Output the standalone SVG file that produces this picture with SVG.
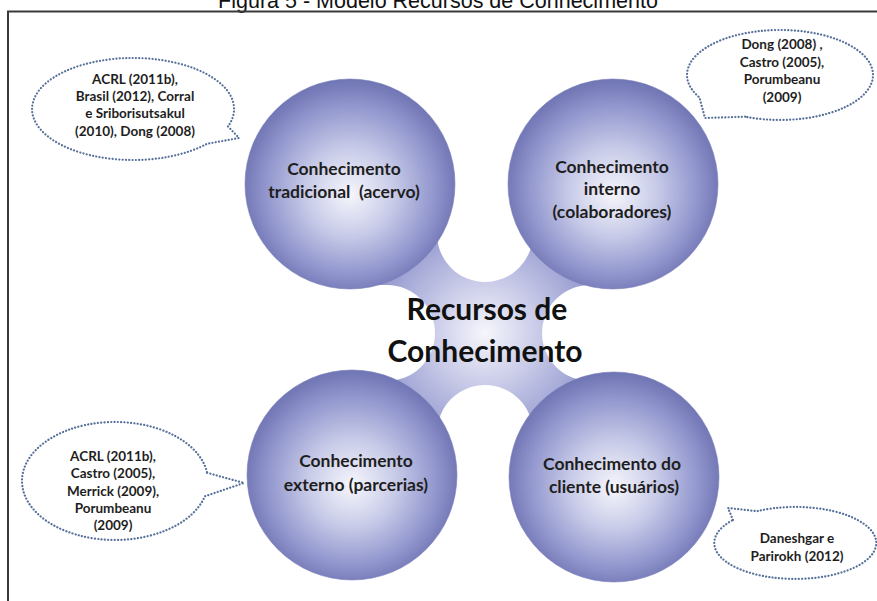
<svg xmlns="http://www.w3.org/2000/svg" width="877" height="601" viewBox="0 0 877 601">
<style>
.frame{fill:none;stroke:#3a3a3a;stroke-width:2}
.title{font-family:"Liberation Sans",Arial,sans-serif;font-size:21.5px;fill:#111}
.ball{stroke:#7a7fbb;stroke-width:0.6}
.lbl{font-family:Lato,"Open Sans",sans-serif;font-weight:700;font-size:17.5px;fill:#1e1e1e;text-anchor:middle}
.hubtxt{font-family:Lato,"Open Sans",sans-serif;font-weight:700;font-size:30px;fill:#111;text-anchor:middle}
.bubble{fill:#fff;stroke:#56709a;stroke-width:2.2;stroke-dasharray:0.1 3.2;stroke-linecap:round;stroke-linejoin:round}
.ctx{font-family:Lato,"Open Sans",sans-serif;font-weight:700;font-size:13.5px;fill:#1e1e1e;text-anchor:middle}
</style>
<defs>
<radialGradient id="ballGrad" cx="50%" cy="52%" r="52%" fx="50%" fy="55%">
<stop offset="0" stop-color="#f6f6fc"/>
<stop offset="0.4" stop-color="#c8cbe8"/>
<stop offset="0.78" stop-color="#9095cd"/>
<stop offset="1" stop-color="#6f74b3"/>
</radialGradient>
<radialGradient id="hubGrad" gradientUnits="userSpaceOnUse" cx="485" cy="333" r="150">
<stop offset="0" stop-color="#f6f6fc"/>
<stop offset="0.35" stop-color="#c9cbe8"/>
<stop offset="0.8" stop-color="#8e93cb"/>
<stop offset="1" stop-color="#7a7fbd"/>
</radialGradient>
<mask id="hubMask" maskUnits="userSpaceOnUse" x="0" y="0" width="877" height="601">
<rect x="0" y="0" width="877" height="601" fill="#fff"/>
<g fill="#000">
<circle cx="485" cy="234" r="48"/><rect x="437" y="0" width="96" height="234"/>
<circle cx="485" cy="433" r="48"/><rect x="437" y="433" width="96" height="200"/>
<circle cx="387" cy="333" r="48"/><rect x="0" y="285" width="387" height="96"/>
<circle cx="590" cy="333" r="48"/><rect x="590" y="285" width="300" height="96"/>
</g>
</mask>
</defs>
<rect x="0" y="0" width="877" height="601" fill="#fff"/>
<text class="title" x="438" y="7.5" text-anchor="middle">Figura 5 - Modelo Recursos de Conhecimento</text>
<path class="frame" d="M 880 11.5 L 8 11.5 L 8 605"/>

<g id="connectors">
<polygon points="350,184 613,184 614,477 352,475" fill="url(#hubGrad)" mask="url(#hubMask)"/>
</g>

<g id="hub">
<text class="hubtxt" x="487" y="320">Recursos de</text>
<text class="hubtxt" x="485" y="362">Conhecimento</text>
</g>

<g id="node-tradicional">
<circle class="ball" cx="350" cy="184" r="105" fill="url(#ballGrad)"/>
<text class="lbl" x="344" y="175">Conhecimento</text>
<text class="lbl" x="344" y="198" xml:space="preserve">tradicional  (acervo)</text>
</g>

<g id="node-interno">
<circle class="ball" cx="613" cy="184" r="105" fill="url(#ballGrad)"/>
<text class="lbl" x="612" y="173">Conhecimento</text>
<text class="lbl" x="612" y="195">interno</text>
<text class="lbl" x="612" y="218">(colaboradores)</text>
</g>

<g id="node-externo">
<circle class="ball" cx="352" cy="475" r="105" fill="url(#ballGrad)"/>
<text class="lbl" x="356" y="467">Conhecimento</text>
<text class="lbl" x="356" y="491">externo (parcerias)</text>
</g>

<g id="node-cliente">
<circle class="ball" cx="614" cy="477" r="105" fill="url(#ballGrad)"/>
<text class="lbl" x="612" y="470">Conhecimento do</text>
<text class="lbl" x="614" y="493">cliente (usuários)</text>
</g>

<g id="callout-tl">
<path class="bubble" d="M 228 126.4 L 239 138 L 206.9 143.8 A 101 51 0 1 1 228 126.4 Z"/>
<text class="ctx" x="135" y="84">ACRL (2011b),</text>
<text class="ctx" x="135" y="101">Brasil (2012), Corral</text>
<text class="ctx" x="135" y="118">e Sriborisutsakul</text>
<text class="ctx" x="135" y="136">(2010), Dong (2008)</text>
</g>

<g id="callout-tr">
<path class="bubble" d="M 745.2 116.7 L 705 118 L 699.5 97.5 A 93 45 0 1 1 745.2 116.7 Z"/>
<text class="ctx" x="782" y="49">Dong (2008) ,</text>
<text class="ctx" x="782" y="67">Castro (2005),</text>
<text class="ctx" x="782" y="84">Porumbeanu</text>
<text class="ctx" x="782" y="102">(2009)</text>
</g>

<g id="callout-bl">
<path class="bubble" d="M 207.1 472.8 L 244 483 L 204.8 496.3 A 93 59 0 1 1 207.1 472.8 Z"/>
<text class="ctx" x="113" y="461">ACRL (2011b),</text>
<text class="ctx" x="113" y="478">Castro (2005),</text>
<text class="ctx" x="113" y="496">Merrick (2009),</text>
<text class="ctx" x="113" y="513">Porumbeanu</text>
<text class="ctx" x="113" y="530">(2009)</text>
</g>

<g id="callout-br">
<path class="bubble" d="M 733 519.9 L 728 508 L 757 511.2 A 81 36 0 1 1 733 519.9 Z"/>
<text class="ctx" x="797" y="543">Daneshgar e</text>
<text class="ctx" x="797" y="561">Parirokh (2012)</text>
</g>
</svg>
